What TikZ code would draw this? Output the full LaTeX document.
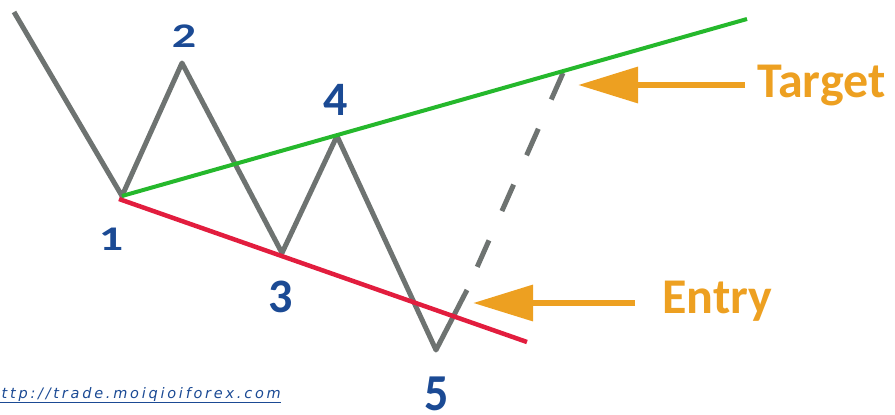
\documentclass[tikz,border=0pt]{standalone}
\usepackage{fontspec}
\setmainfont{Carlito}
\newfontfamily\urlfont[LetterSpace=19]{DejaVu Sans}
\usetikzlibrary{arrows.meta}
\definecolor{grc}{HTML}{6E7371}
\definecolor{tgc}{HTML}{25B82C}
\definecolor{slc}{HTML}{E21D3E}
\definecolor{wvc}{HTML}{1B4A94}
\definecolor{orc}{HTML}{EDA021}

\begin{document}
\begin{tikzpicture}[x=1pt, y=-1pt, line join=round,
    price/.style={grc, line width=5pt},
    wave/.style={wvc, inner sep=0pt, font=\bfseries\fontsize{48}{48}\selectfont},
    hint/.style={orc, inner sep=0pt, anchor=base west, font=\bfseries\fontsize{50}{50}\selectfont},
    pointer/.style={orc, line width=6.5pt, -{Triangle[length=60pt, width=35pt]}}]
  \useasboundingbox (0,0) rectangle (895,415);
  \clip (0,0) rectangle (895,415);
  % turning points of the price
  \coordinate (p0) at (14,12);
  \coordinate (p1) at (122,196);
  \coordinate (p2) at (182,63);
  \coordinate (p3) at (282,253);
  \coordinate (p4) at (337,136);
  \coordinate (p5) at (436,350);
  \coordinate (p6) at (467,290);
  \coordinate (p7) at (563,73);
  \draw[price] (p0) -- (p1) -- (p2) -- (p3) -- (p4) -- (p5) -- (p6);
  \draw[price, dash pattern=on 29pt off 32pt] (p7) -- (p6);
  % trend lines
  \coordinate (g1) at (747,19);
  \coordinate (r0) at (119,199);
  \coordinate (r1) at (527,342);
  \draw[tgc, line width=4pt] (p1) -- (g1);
  \draw[slc, line width=4.5pt] (r0) -- (r1);
  % wave numbers
  \node[wave] (n1) at (111,239) {\scalebox{1}[0.72]{1}};
  \node[wave] (n2) at (184,36) {\scalebox{1}[0.72]{2}};
  \node[wave] (n3) at (281,297) {3};
  \node[wave] (n4) at (336,100) {4};
  \node[wave] (n5) at (437,394) {\scalebox{1}[1.08]{5}};
  % target and entry
  \node[hint] (target) at (757,97) {Target};
  \node[hint] (entry) at (662,313) {Entry};
  \coordinate (ttail) at (745,85);
  \coordinate (ttip) at (578,85);
  \coordinate (etail) at (635,303);
  \coordinate (etip) at (473,303);
  \draw[pointer] (ttail) -- (ttip);
  \draw[pointer] (etail) -- (etip);
  \node[wvc, inner sep=0pt, anchor=base east] (url) at (281,398)
    {\urlfont\itshape\fontsize{14.5}{14.5}\selectfont\underline{http://trade.moiqioiforex.com}};
\end{tikzpicture}
\end{document}
